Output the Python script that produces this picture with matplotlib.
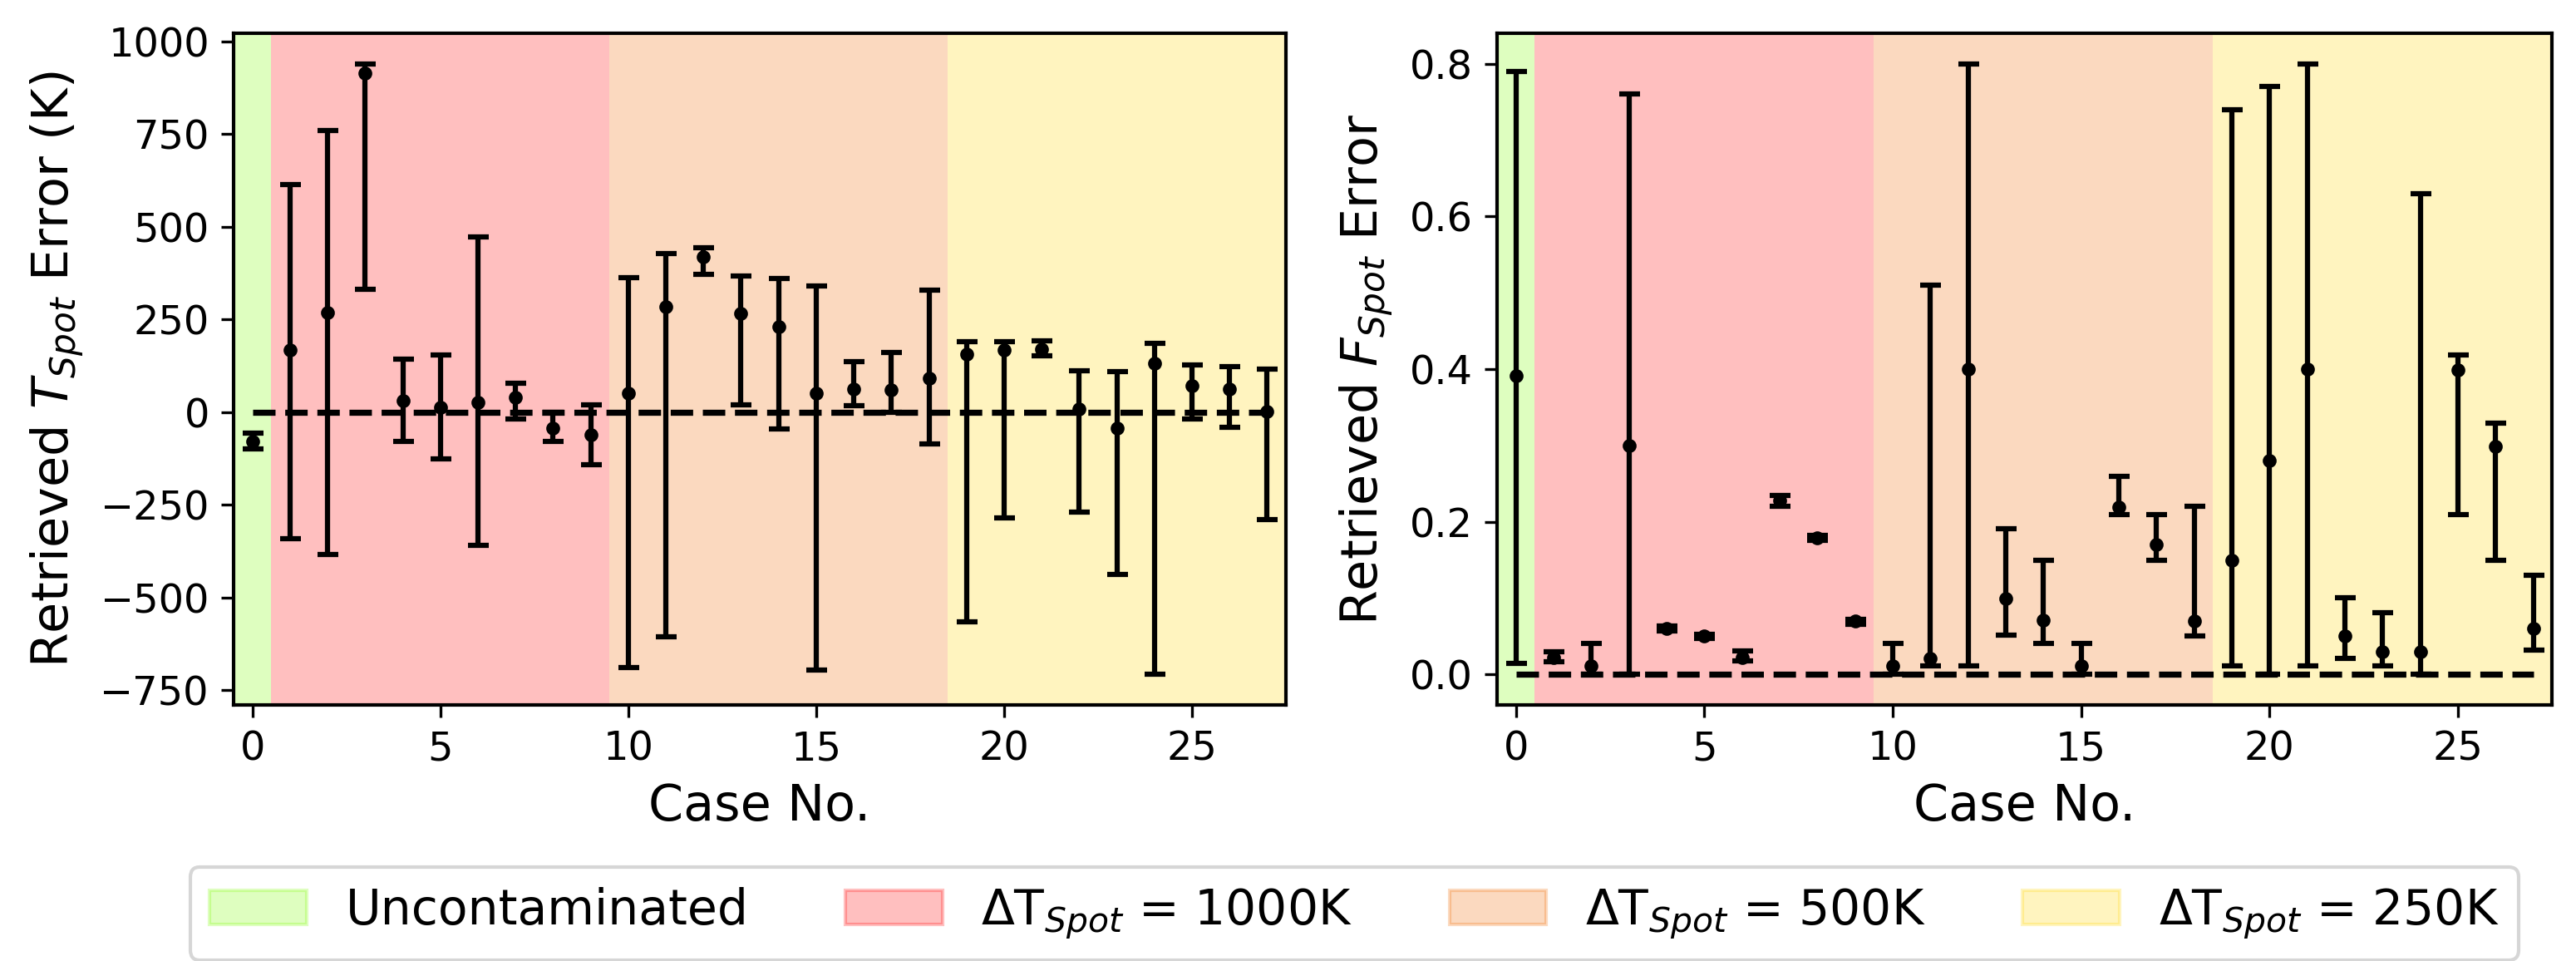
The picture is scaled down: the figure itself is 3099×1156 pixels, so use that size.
import numpy as np
import matplotlib
matplotlib.use("Agg")
import matplotlib.pyplot as plt
from matplotlib.patches import Patch

# case numbers
cases = list(range(28))

# retrieved T_spot error (K): value, lower bound, upper bound
t_err = [-80, 166, 267, 914, 31, 13, 25, 39, -43, -62,
         50, 284, 418, 265, 230, 50, 61, 60, 91,
         157, 166, 170, 7, -43, 132, 71, 61, 1]
t_lo = [-100, -342, -385, 330, -80, -127, -360, -20, -80, -143,
        -690, -607, 372, 20, -46, -697, 16, 0, -87,
        -567, -286, 151, -269, -439, -708, -19, -42, -290]
t_hi = [-58, 613, 758, 939, 143, 153, 473, 78, -2, 19,
        362, 427, 442, 366, 360, 340, 136, 161, 329,
        189, 189, 192, 110, 108, 185, 126, 122, 116]

# retrieved F_spot error: value, lower bound, upper bound
f_err = [0.391, 0.022, 0.011, 0.300, 0.060, 0.050, 0.022, 0.228, 0.179, 0.0695,
         0.011, 0.021, 0.400, 0.0995, 0.0706, 0.0115, 0.219, 0.170, 0.0695,
         0.150, 0.280, 0.400, 0.050, 0.030, 0.030, 0.399, 0.299, 0.0597]
f_lo = [0.015, 0.017, 0.0, 0.0, 0.057, 0.047, 0.018, 0.220, 0.176, 0.066,
        0.0, 0.0115, 0.0115, 0.051, 0.041, 0.0, 0.209, 0.1495, 0.0506,
        0.0115, 0.0, 0.0115, 0.021, 0.0115, 0.0, 0.209, 0.1495, 0.0315]
f_hi = [0.790, 0.030, 0.041, 0.760, 0.063, 0.053, 0.031, 0.234, 0.182, 0.072,
        0.041, 0.510, 0.800, 0.191, 0.150, 0.041, 0.260, 0.209, 0.2205,
        0.740, 0.770, 0.800, 0.100, 0.081, 0.630, 0.419, 0.3295, 0.130]

# background regions (case ranges)
region_edges = [-0.5, 0.5, 9.5, 18.5, 27.5]
region_colors = ["lawngreen", "red", "#f36b03", "gold"]
region_alpha = [0.25, 0.25, 0.25, 0.25]
region_labels = ["Uncontaminated", r"$\Delta$T$_{Spot}$ = 1000K",
                 r"$\Delta$T$_{Spot}$ = 500K", r"$\Delta$T$_{Spot}$ = 250K"]

plt.rcParams["font.family"] = ["DejaVu Sans"]

fig = plt.figure(figsize=(3099 / 300, 1156 / 300), dpi=300)
ax1 = fig.add_axes([0.0907, 0.2664, 0.4085, 0.6990])
ax2 = fig.add_axes([0.5812, 0.2664, 0.4095, 0.6990])


def draw_panel(ax, vals, lo, hi, ylabel):
    vals = np.array(vals)
    yerr = [vals - np.array(lo), np.array(hi) - vals]
    for i, c in enumerate(region_colors):
        ax.axvspan(region_edges[i], region_edges[i + 1], facecolor=c,
                   alpha=region_alpha[i], lw=0)
    ax.plot([cases[0], cases[-1]], [0, 0], "k--", lw=1.75)
    ax.errorbar(cases, vals, yerr=yerr, fmt="k.", ecolor="k", elinewidth=1.5,
                capsize=3, capthick=1.5)
    ax.set_xlim(-0.5, 27.5)
    ax.set_xlabel("Case No.", fontsize=14.5)
    ax.set_ylabel(ylabel, fontsize=14.5)
    ax.tick_params(labelsize=11.5)
    for s in ax.spines.values():
        s.set_linewidth(1.0)


draw_panel(ax1, t_err, t_lo, t_hi, r"Retrieved $T_{Spot}$ Error (K)")
draw_panel(ax2, f_err, f_lo, f_hi, r"Retrieved $F_{Spot}$ Error")
ax1.set_yticks([-750, -500, -250, 0, 250, 500, 750, 1000])

handles = [Patch(facecolor=c, edgecolor=c, alpha=a, lw=1.0)
           for c, a in zip(region_colors, region_alpha)]
fig.legend(handles, region_labels, loc="upper center", ncol=4, fontsize=14,
           bbox_to_anchor=(0.5257, 0.1228))

fig.savefig("out.png", dpi=300)
